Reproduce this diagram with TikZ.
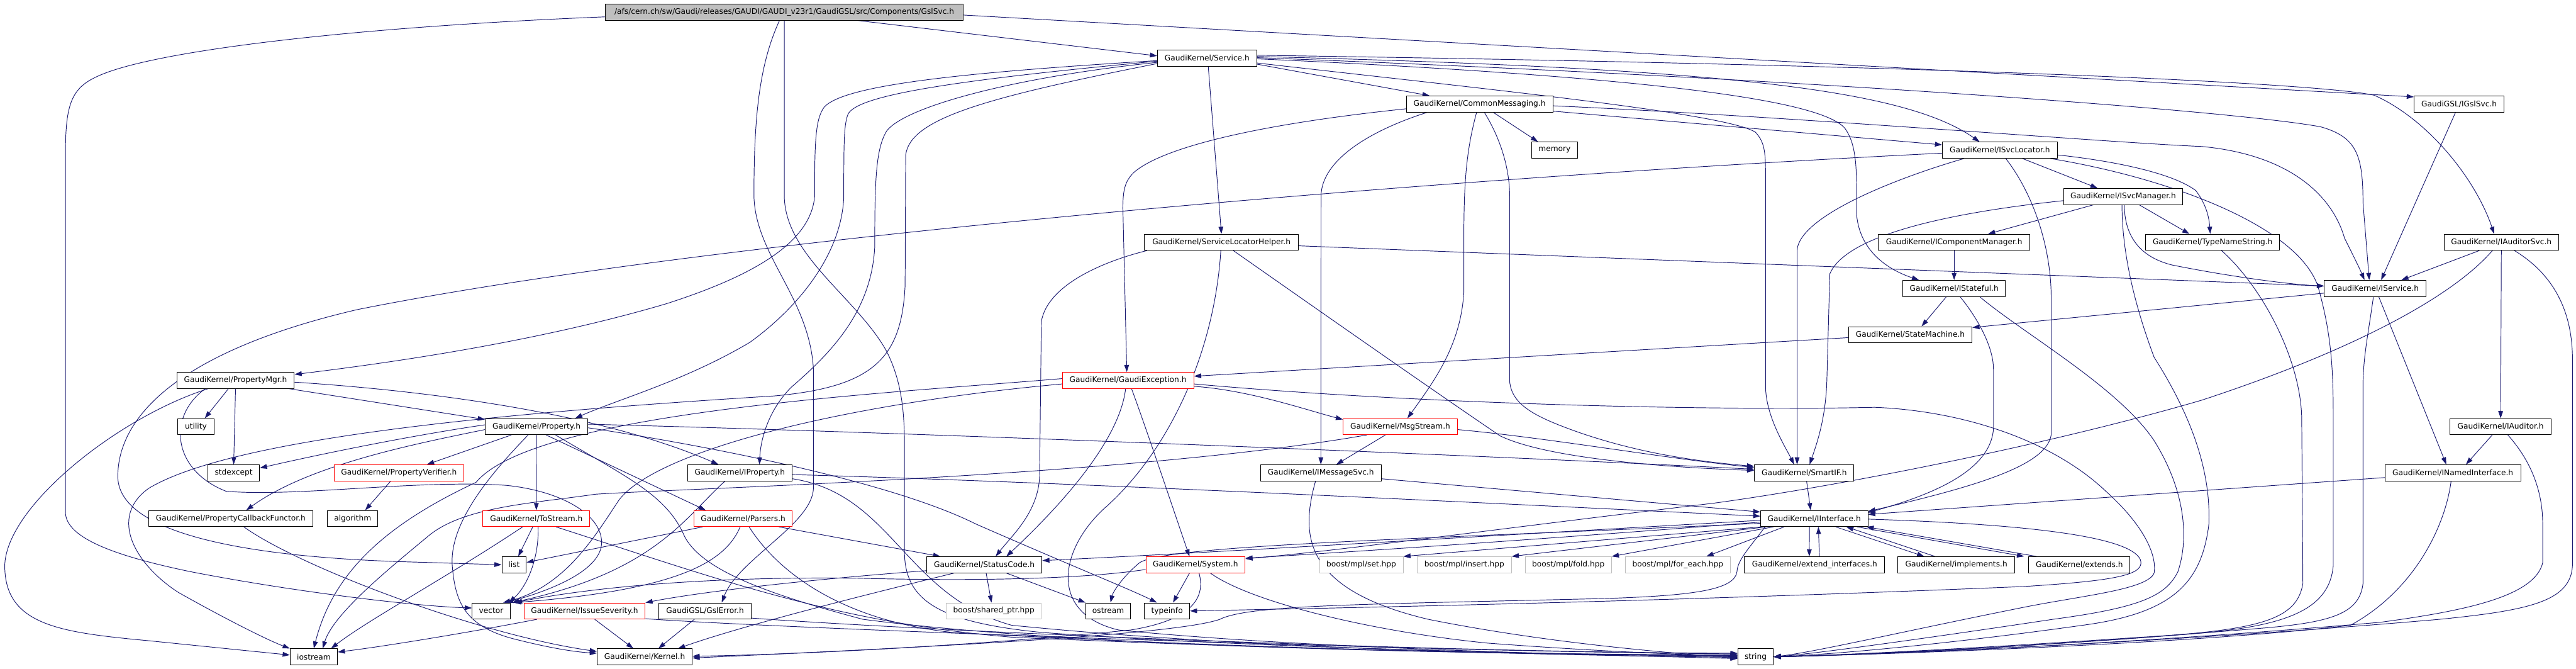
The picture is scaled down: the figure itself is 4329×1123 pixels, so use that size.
\documentclass[tikz,border=0pt]{standalone}
\usepackage{fontspec}
\setmainfont{DejaVu Sans}
\usetikzlibrary{arrows.meta}
\definecolor{ec}{HTML}{191970}
\definecolor{rootgray}{HTML}{BFBFBF}
\definecolor{lightframe}{HTML}{BFBFBF}
\pgfdeclarelayer{bg}
\pgfsetlayers{bg,main}
\begin{document}
\begin{tikzpicture}[x=1pt,y=-1pt,
 nd/.style={draw=black, line width=1pt, fill=white, minimum height=27pt, inner xsep=2pt, inner ysep=0pt, font=\fontsize{12.9}{15}\selectfont, text=black},
 rd/.style={nd, draw=red},
 gd/.style={nd, draw=lightframe},
 rt/.style={nd, fill=rootgray},
 edg/.style={draw=ec, line width=1pt, -{Triangle[length=12pt,width=8pt]}}]
\useasboundingbox (0,0) rectangle (4329,1123);
% ---------------- nodes
\node[rt, minimum width=602pt] (R) at (1318,20.3) {/afs/cern.ch/sw/Gaudi/releases/GAUDI/GAUDI\_v23r1/GaudiGSL/src/Components/GslSvc.h};
\node[nd, minimum width=167pt] (Svc) at (2028.5,97.8) {GaudiKernel/Service.h};
\node[nd, minimum width=246pt] (CM) at (2486.4,174.7) {GaudiKernel/CommonMessaging.h};
\node[nd, minimum width=77pt] (mem) at (2612.5,252) {memory};
\node[nd, minimum width=258.6pt] (SLH) at (2052.6,406.8) {GaudiKernel/ServiceLocatorHelper.h};
\node[nd, minimum width=193pt] (ISL) at (3360.7,252.2) {GaudiKernel/ISvcLocator.h};
\node[nd, minimum width=200.7pt] (ISM) at (3568,330) {GaudiKernel/ISvcManager.h};
\node[nd, minimum width=254.6pt] (ICM) at (3283.9,406.8) {GaudiKernel/IComponentManager.h};
\node[nd, minimum width=225.4pt] (TNS) at (3718.3,406.8) {GaudiKernel/TypeNameString.h};
\node[nd, minimum width=172.8pt] (IS) at (3283.9,484.3) {GaudiKernel/IStateful.h};
\node[nd, minimum width=207.7pt] (SM) at (3210.2,562) {GaudiKernel/StateMachine.h};
\node[nd, minimum width=151pt] (IGsl) at (4132.5,174.7) {GaudiGSL/IGslSvc.h};
\node[nd, minimum width=193pt] (IAS) at (4203.5,406.8) {GaudiKernel/IAuditorSvc.h};
\node[nd, minimum width=171pt] (ISvc) at (3991.5,484.3) {GaudiKernel/IService.h};
\node[nd, minimum width=170pt] (IAud) at (4202.3,716.4) {GaudiKernel/IAuditor.h};
\node[nd, minimum width=228pt] (INI) at (4122,794) {GaudiKernel/INamedInterface.h};
\node[nd, minimum width=197.5pt] (PM) at (395.8,638.8) {GaudiKernel/PropertyMgr.h};
\node[nd, minimum width=60.5pt] (util) at (329.2,716.4) {utility};
\node[nd, minimum width=87pt] (stdx) at (392.7,794) {stdexcept};
\node[rd, minimum width=218pt] (PV) at (670.5,794) {GaudiKernel/PropertyVerifier.h};
\node[nd, minimum width=276.5pt] (PCF) at (387.8,870.8) {GaudiKernel/PropertyCallbackFunctor.h};
\node[nd, minimum width=84.8pt] (alg) at (592.7,870.8) {algorithm};
\node[nd, minimum width=79.6pt] (ios) at (527.3,1103) {iostream};
\node[nd, minimum width=172.3pt] (P) at (901.6,716.4) {GaudiKernel/Property.h};
\node[nd, minimum width=176pt] (IP) at (1243.3,794) {GaudiKernel/IProperty.h};
\node[rd, minimum width=180pt] (TS) at (901.3,870.8) {GaudiKernel/ToStream.h};
\node[rd, minimum width=164.8pt] (Ps) at (1248.9,870.8) {GaudiKernel/Parsers.h};
\node[nd, minimum width=41pt] (list) at (863.9,948.4) {list};
\node[nd, minimum width=63.7pt] (vec) at (825.4,1026) {vector};
\node[rd, minimum width=203.5pt] (ISev) at (982.4,1026) {GaudiKernel/IssueSeverity.h};
\node[nd, minimum width=155pt] (GErr) at (1184.9,1026) {GaudiGSL/GslError.h};
\node[nd, minimum width=159.7pt] (Ker) at (1083.4,1103) {GaudiKernel/Kernel.h};
\node[rd, minimum width=221pt] (GE) at (1895.6,638.8) {GaudiKernel/GaudiException.h};
\node[nd, minimum width=193.7pt] (SC) at (1654.2,948.4) {GaudiKernel/StatusCode.h};
\node[rd, minimum width=166.7pt] (Sys) at (2009,948.4) {GaudiKernel/System.h};
\node[gd, minimum width=159.7pt] (bsp) at (1670.2,1026) {boost/shared\_ptr.hpp};
\node[nd, minimum width=75.4pt] (ost) at (1862.3,1026) {ostream};
\node[nd, minimum width=75.9pt] (tyi) at (1961.2,1026) {typeinfo};
\node[rd, minimum width=191.8pt] (MS) at (2353.2,716.4) {GaudiKernel/MsgStream.h};
\node[nd, minimum width=202.7pt] (IMS) at (2219.7,794) {GaudiKernel/IMessageSvc.h};
\node[gd, minimum width=140.6pt] (mset) at (2287.6,948.4) {boost/mpl/set.hpp};
\node[gd, minimum width=158.3pt] (mins) at (2460.8,948.4) {boost/mpl/insert.hpp};
\node[gd, minimum width=144.8pt] (mfold) at (2635.6,948.4) {boost/mpl/fold.hpp};
\node[gd, minimum width=176.6pt] (mfe) at (2819.6,948.4) {boost/mpl/for\_each.hpp};
\node[nd, minimum width=167.2pt] (SIF) at (3032,794) {GaudiKernel/SmartIF.h};
\node[nd, minimum width=180.2pt] (II) at (3048.8,870.8) {GaudiKernel/IInterface.h};
\node[nd, minimum width=235.6pt] (EI) at (3049.5,948.4) {GaudiKernel/extend\_interfaces.h};
\node[nd, minimum width=196pt] (Impl) at (3287.6,948.4) {GaudiKernel/implements.h};
\node[nd, minimum width=170pt] (Ext) at (3494.4,948.4) {GaudiKernel/extends.h};
\node[nd, minimum width=59.6pt] (str) at (2950.3,1103) {string};
% ---------------- edges
\begin{pgfonlayer}{bg}
\fill[white] (0,0) rectangle (4329,1123);
% root
\draw[edg] ([xshift=122pt]R.south) -- ([yshift=4pt]Svc.west);
\draw[edg] ([yshift=-5pt]R.east) -- ([yshift=12pt]IGsl.west);
\draw[edg] ([xshift=-8pt]R.south) .. controls (1275,110) and (1267,200) .. (1267,330) .. controls (1270,430) and (1360,500) .. (1367,620) -- (1367,820) .. controls (1365,880) and (1240,940) .. ([xshift=28pt]GErr.north);
\draw[edg] (R.south) -- (1318,330) .. controls (1320,430) and (1440,500) .. (1490,590) .. controls (1515,640) and (1520,690) .. (1520,750) -- (1520,930) .. controls (1522,1010) and (1580,1045) .. (1750,1062) .. controls (2100,1088) and (2600,1098) .. (str.west);
\draw[edg] ([yshift=-8pt]R.west) .. controls (600,45) and (250,85) .. (160,130) .. controls (118,150) and (110,180) .. (110,260) -- (110,860) .. controls (110,905) and (200,935) .. (320,960) .. controls (500,995) and (700,1018) .. ([yshift=5pt]vec.west);
% Service
\draw[edg] ([yshift=-10pt]Svc.east) -- ([xshift=-84pt]CM.north);
\draw[edg] ([xshift=2pt]Svc.south) -- (SLH.north);
\draw[edg] ([yshift=3pt]Svc.east) .. controls (2900,115) and (3200,150) .. ([xshift=-34pt]ISL.north);
\draw[edg] ([yshift=-1pt]Svc.east) .. controls (2800,130) and (3060,170) .. (3100,215) .. controls (3122,245) and (3120,290) .. (3120,360) .. controls (3125,420) and (3170,452) .. ([xshift=-59pt]IS.north);
\draw[edg] ([yshift=1pt]Svc.east) .. controls (3000,130) and (3750,185) .. (3900,213) .. controls (3960,230) and (3971,260) .. (3971,340) -- ([xshift=-10pt]ISvc.north);
\draw[edg] ([yshift=5pt]Svc.east) .. controls (3300,110) and (3900,140) .. (3990,160) .. controls (4080,200) and (4160,300) .. ([xshift=-12pt]IAS.north);
\draw[edg] ([yshift=-8pt]Svc.east) .. controls (2500,150) and (2900,190) .. (2950,222) .. controls (2967,240) and (2967,260) .. (2967,300) -- (2967,650) .. controls (2968,700) and (3000,750) .. ([xshift=-17pt]SIF.north);
\draw[edg] ([yshift=-4pt]Svc.west) .. controls (1650,120) and (1420,140) .. (1385,180) .. controls (1370,200) and (1369,240) .. (1369,330) .. controls (1362,410) and (1260,465) .. (1120,510) .. controls (900,575) and (650,610) .. ([yshift=10pt]PM.east);
\draw[edg] ([yshift=-5pt]Svc.west) .. controls (1600,135) and (1440,160) .. (1425,192) .. controls (1418,210) and (1418,240) .. (1418,330) .. controls (1415,420) and (1350,510) .. (1260,575) .. controls (1150,640) and (1040,670) .. ([xshift=65pt]P.north);
\draw[edg] ([yshift=-7pt]Svc.west) .. controls (1700,130) and (1520,180) .. (1490,220) .. controls (1472,250) and (1470,300) .. (1470,414) .. controls (1465,520) and (1400,590) .. (1330,650) .. controls (1290,690) and (1278,740) .. ([xshift=33pt]IP.north);
\draw[edg] ([yshift=-9pt]Svc.west) .. controls (1650,165) and (1530,200) .. (1522,260) -- (1521,480) .. controls (1515,600) and (1470,650) .. (1300,665) .. controls (900,690) and (400,730) .. (250,820) .. controls (180,870) and (230,950) .. (300,995) .. controls (380,1040) and (450,1075) .. (ios.north west);
% CommonMessaging
\draw[edg] ([xshift=23pt]CM.south) -- ([xshift=-28pt]mem.north);
\draw[edg] ([yshift=-12pt]CM.east) -- ([yshift=9pt]ISL.west);
\draw[edg] ([yshift=-3pt]CM.east) .. controls (3000,195) and (3550,240) .. (3700,246) .. controls (3850,260) and (3920,330) .. (3940,400) .. controls (3955,430) and (3965,450) .. ([xshift=-18pt]ISvc.north);
\draw[edg] ([xshift=8pt]CM.south) .. controls (2520,230) and (2537,280) .. (2537,330) -- (2537,640) .. controls (2540,680) and (2580,700) .. (2650,725) .. controls (2750,760) and (2850,775) .. ([yshift=11pt]SIF.west);
\draw[edg] ([xshift=-5pt]CM.south) .. controls (2465,250) and (2460,300) .. (2460,400) -- (2460,490) .. controls (2455,580) and (2410,640) .. ([xshift=12pt]MS.north);
\draw[edg] ([xshift=-88pt]CM.south) .. controls (2300,220) and (2220,270) .. (2220,330) -- (IMS.north);
\draw[edg] ([yshift=-8pt]CM.west) .. controls (2100,210) and (1950,250) .. (1905,290) .. controls (1890,305) and (1887,320) .. (1887,350) -- ([xshift=-2pt]GE.north);
% ServiceLocatorHelper
\draw[edg] ([yshift=-6pt]SLH.east) -- ([yshift=4pt]ISvc.west);
\draw[edg] ([xshift=20pt]SLH.south) .. controls (2200,510) and (2400,650) .. (2521,732) .. controls (2600,770) and (2800,785) .. ([yshift=4pt]SIF.west);
\draw[edg] ([xshift=-125pt]SLH.south) .. controls (1850,440) and (1760,480) .. (1750,540) -- (1747,800) .. controls (1745,860) and (1700,900) .. ([xshift=19pt]SC.north);
\draw[edg] ([xshift=-1pt]SLH.south) .. controls (2040,600) and (1960,760) .. (1860,850) .. controls (1780,920) and (1760,1030) .. (1880,1058) .. controls (2200,1090) and (2700,1100) .. ([yshift=-3pt]str.west);
% ISvcLocator
\draw[edg] ([xshift=38pt]ISL.south) -- ([xshift=-43pt]ISM.north);
\draw[edg] ([yshift=-8pt]ISL.east) .. controls (3550,270) and (3650,290) .. (3690,320) .. controls (3705,340) and (3712,360) .. ([xshift=-4pt]TNS.north);
\draw[edg] ([xshift=-60pt]ISL.south) .. controls (3200,295) and (3025,360) .. (3020,420) -- (3020,680) -- ([xshift=-12pt]SIF.north);
\draw[edg] ([xshift=10pt]ISL.south) .. controls (3420,330) and (3447,420) .. (3447,500) -- (3447,730) .. controls (3440,780) and (3330,815) .. ([yshift=12pt]II.east);
\draw[edg] ([xshift=85pt]ISL.south) .. controls (3650,300) and (3860,380) .. (3895,480) .. controls (3918,560) and (3921,620) .. (3921,700) -- (3921,950) .. controls (3915,1020) and (3850,1050) .. (3700,1063) .. controls (3400,1088) and (3100,1100) .. (str.east);
\draw[edg] ([yshift=-5pt]ISL.west) .. controls (2400,300) and (1200,400) .. (600,520) .. controls (300,590) and (198,700) .. (198,800) .. controls (198,880) and (350,935) .. (700,944) -- (list.west);
% ISvcManager
\draw[edg] ([xshift=-50pt]ISM.south) -- ([xshift=57pt]ICM.north);
\draw[edg] ([xshift=27pt]ISM.south) -- ([xshift=-39pt]TNS.north);
\draw[edg] ([xshift=2pt]ISM.south) .. controls (3570,390) and (3590,430) .. (3650,445) .. controls (3750,465) and (3850,478) .. ([yshift=4pt]ISvc.west);
\draw[edg] ([yshift=-7pt]ISM.west) .. controls (3250,360) and (3100,400) .. (3075,460) -- (3070,640) .. controls (3068,700) and (3055,740) .. ([xshift=9pt]SIF.north);
\draw[edg] ([xshift=-2pt]ISM.south) .. controls (3566,430) and (3590,520) .. (3620,600) .. controls (3690,710) and (3715,800) .. (3712,880) .. controls (3700,980) and (3650,1030) .. (3500,1050) .. controls (3300,1078) and (3100,1098) .. (str.east);
% IComponentManager, TypeNameString
\draw[edg] (ICM.south) -- (IS.north);
\draw[edg] ([xshift=15pt]TNS.south) .. controls (3800,480) and (3865,600) .. (3868,700) -- (3870,980) .. controls (3860,1040) and (3800,1058) .. (3600,1070) .. controls (3300,1090) and (3100,1100) .. (str.east);
% IStateful
\draw[edg] ([xshift=-13pt]IS.south) -- ([xshift=19pt]SM.north);
\draw[edg] ([xshift=10pt]IS.south) .. controls (3320,530) and (3350,580) .. (3350,620) -- (3350,720) .. controls (3345,790) and (3250,830) .. ([yshift=10pt]II.east);
\draw[edg] ([xshift=43pt]IS.south) .. controls (3400,560) and (3560,650) .. (3620,740) .. controls (3670,820) and (3680,900) .. (3660,960) .. controls (3640,1000) and (3600,1020) .. (3450,1040) .. controls (3250,1070) and (3050,1098) .. (str.east);
% StateMachine
\draw[edg] ([yshift=-5pt]SM.west) -- ([yshift=7pt]GE.east);
% IGslSvc, IAuditorSvc
\draw[edg] ([xshift=-6pt]IGsl.south) -- ([xshift=10pt]ISvc.north);
\draw[edg] ([xshift=-37pt]IAS.south) -- ([xshift=44pt]ISvc.north);
\draw[edg] (IAS.south) -- (IAud.north);
\draw[edg] ([xshift=-15pt]IAS.south) .. controls (4120,500) and (3950,590) .. (3700,672) .. controls (3450,745) and (3100,815) .. (2880,845) .. controls (2500,890) and (2250,925) .. ([yshift=10pt]Sys.east);
\draw[edg] ([xshift=22pt]IAS.south) .. controls (4290,460) and (4322,520) .. (4323,600) -- (4323,950) .. controls (4320,1010) and (4250,1025) .. (4100,1040) .. controls (3700,1075) and (3200,1098) .. (str.east);
% IService
\draw[edg] ([xshift=6pt]ISvc.south) -- ([xshift=-11pt]INI.north);
\draw[edg] ([yshift=-8pt]ISvc.west) -- ([yshift=12pt]SM.east);
\draw[edg] ([xshift=-3pt]ISvc.south) .. controls (3980,560) and (3971,600) .. (3971,650) -- (3971,980) .. controls (3965,1030) and (3920,1045) .. (3800,1055) .. controls (3500,1080) and (3200,1098) .. (str.east);
% IAuditor, INamedInterface
\draw[edg] ([xshift=-14pt]IAud.south) -- ([xshift=22pt]INI.north);
\draw[edg] ([xshift=12pt]IAud.south) .. controls (4250,770) and (4273,820) .. (4273,880) -- (4273,945) .. controls (4260,1000) and (4150,1025) .. (4000,1045) .. controls (3600,1080) and (3200,1098) .. (str.east);
\draw[edg] ([yshift=-8pt]INI.west) -- ([yshift=7pt]II.east);
\draw[edg] ([xshift=-3pt]INI.south) .. controls (4110,880) and (4060,990) .. (3950,1050) .. controls (3700,1080) and (3200,1098) .. (str.east);
% PropertyMgr
\draw[edg] ([xshift=-12pt]PM.south) -- ([xshift=15pt]util.north);
\draw[edg] (PM.south) -- (stdx.north);
\draw[edg] ([xshift=90pt]PM.south) -- ([yshift=12pt]P.west);
\draw[edg] ([yshift=-3pt]PM.east) .. controls (700,655) and (1000,690) .. ([xshift=-36pt]IP.north);
\draw[edg] ([xshift=-46pt]PM.south) .. controls (200,700) and (10,850) .. (8,950) .. controls (8,1050) and (100,1062) .. (250,1076) -- ([yshift=3pt]ios.west);
\draw[edg] ([xshift=-51pt]PM.south) .. controls (280,700) and (290,790) .. (380,825) .. controls (500,835) and (700,805) .. (850,815) .. controls (950,825) and (1020,870) .. (1010,920) .. controls (1000,960) and (930,990) .. ([xshift=25pt]vec.north);
% Property
\draw[edg] ([xshift=-42pt]P.south) -- ([xshift=47pt]PV.north);
\draw[edg] ([yshift=-5pt]P.west) .. controls (700,745) and (520,780) .. ([xshift=26pt]PCF.north);
\draw[edg] ([yshift=3pt]P.west) .. controls (700,730) and (550,760) .. ([yshift=8pt]stdx.east);
\draw[edg] (P.south) -- (TS.north);
\draw[edg] ([xshift=16pt]P.south) -- ([xshift=-63pt]Ps.north);
\draw[edg] ([yshift=-2pt]P.east) .. controls (1200,750) and (1500,810) .. (1640,880) .. controls (1800,950) and (1900,990) .. ([xshift=-17pt]tyi.north);
\draw[edg] ([xshift=-14pt]P.south) .. controls (820,800) and (755,880) .. (760,950) .. controls (765,1010) and (780,1050) .. (860,1072) .. controls (930,1090) and (970,1095) .. ([yshift=6pt]Ker.west);
\draw[edg] ([yshift=4pt]P.east) .. controls (1500,725) and (2500,765) .. ([yshift=6pt]SIF.west);
\draw[edg] ([xshift=32pt]P.south) .. controls (1050,800) and (1120,830) .. (1150,900) .. controls (1180,960) and (1300,1000) .. (1450,1040) .. controls (1800,1085) and (2400,1098) .. ([yshift=3pt]str.west);
% PropertyVerifier, PropertyCallbackFunctor
\draw[edg] ([xshift=-14pt]PV.south) -- ([xshift=21pt]alg.north);
\draw[edg] ([xshift=22pt]PCF.south) .. controls (500,950) and (800,1065) .. ([yshift=9pt]Ker.west);
% IProperty
\draw[edg] ([yshift=-3pt]IP.east) .. controls (1800,810) and (2500,845) .. ([yshift=4pt]II.west);
\draw[edg] ([yshift=-10pt]IP.east) .. controls (1500,830) and (1520,1000) .. (1700,1050) .. controls (2100,1090) and (2600,1100) .. ([yshift=-1pt]str.west);
\draw[edg] ([xshift=-25pt]IP.south) .. controls (1150,870) and (1100,960) .. ([xshift=35pt]vec.north);
% ToStream
\draw[edg] ([xshift=-6pt]TS.south) -- ([xshift=7pt]list.north);
\draw[edg] ([xshift=3pt]TS.south) .. controls (906,930) and (890,980) .. ([xshift=30pt]vec.north);
\draw[edg] ([xshift=-23pt]TS.south) .. controls (750,970) and (620,1040) .. ([xshift=29pt]ios.north);
\draw[edg] ([xshift=33pt]TS.south) .. controls (1200,970) and (1400,1045) .. (1700,1070) .. controls (2200,1092) and (2600,1100) .. ([yshift=2pt]str.west);
% Parsers
\draw[edg] ([xshift=-68pt]Ps.south) -- ([yshift=4pt]list.east);
\draw[edg] ([xshift=-5pt]Ps.south) .. controls (1220,940) and (1150,990) .. ([xshift=38pt]vec.north);
\draw[edg] ([xshift=60pt]Ps.south) -- ([xshift=-74pt]SC.north);
\draw[edg] ([xshift=10pt]Ps.south) .. controls (1300,950) and (1400,1040) .. (1600,1062) .. controls (2100,1090) and (2600,1100) .. ([yshift=3pt]str.west);
% IssueSeverity, GslError
\draw[edg] ([xshift=17pt]ISev.south) -- ([xshift=-19pt]Ker.north);
\draw[edg] ([xshift=-80pt]ISev.south) .. controls (800,1060) and (650,1085) .. ([yshift=8pt]ios.east);
\draw[edg] ([yshift=-13pt]ISev.east) .. controls (1300,1055) and (2400,1095) .. ([yshift=5pt]str.west);
\draw[edg] ([xshift=-18pt]GErr.south) -- ([xshift=23pt]Ker.north);
\draw[edg] ([yshift=-12pt]GErr.east) .. controls (1600,1062) and (2400,1095) .. ([yshift=6pt]str.west);
% StatusCode
\draw[edg] ([yshift=-10pt]SC.west) .. controls (1400,970) and (1200,990) .. (ISev.north east);
\draw[edg] ([xshift=3pt]SC.south) -- ([xshift=-4pt]bsp.north);
\draw[edg] ([xshift=37pt]SC.south) -- (ost.north west);
\draw[edg] ([xshift=-51pt]SC.south) .. controls (1450,1000) and (1250,1050) .. ([xshift=56pt]Ker.north);
% System
\draw[edg] ([xshift=-10pt]Sys.south) -- ([xshift=10pt]tyi.north);
\draw[edg] ([yshift=-8pt]Sys.west) .. controls (1800,975) and (1600,975) .. (1440,971) .. controls (1200,968) and (1000,985) .. ([xshift=40pt]vec.north);
\draw[edg] ([xshift=6pt]Sys.south) .. controls (2025,1000) and (2010,1040) .. (1900,1058) .. controls (1600,1088) and (1300,1100) .. ([yshift=1pt]Ker.east);
\draw[edg] ([xshift=25pt]Sys.south) .. controls (2100,1010) and (2300,1060) .. (2500,1080) .. controls (2700,1095) and (2850,1100) .. ([yshift=1pt]str.west);
% GaudiException
\draw[edg] ([xshift=-4pt]GE.south) .. controls (1880,750) and (1760,870) .. ([xshift=37pt]SC.north);
\draw[edg] ([xshift=6pt]GE.south) .. controls (1930,730) and (1980,880) .. ([xshift=-10pt]Sys.north);
\draw[edg] ([yshift=-10pt]GE.east) .. controls (2100,655) and (2200,690) .. ([yshift=12pt]MS.west);
\draw[edg] ([yshift=3pt]GE.west) .. controls (1500,660) and (900,690) .. (800,810) .. controls (650,880) and (560,960) .. (ios.north);
\draw[edg] ([yshift=-6pt]GE.west) .. controls (1400,680) and (1100,760) .. (1040,840) .. controls (1000,900) and (950,985) .. ([xshift=20pt]vec.north);
\draw[edg] ([yshift=-6pt]GE.east) .. controls (2400,680) and (2900,690) .. (3150,684) .. controls (3300,690) and (3450,740) .. (3540,826) .. controls (3600,880) and (3625,930) .. (3620,962) .. controls (3610,990) and (3500,1000) .. (3400,1020) .. controls (3200,1060) and (3050,1095) .. (str.east);
% MsgStream
\draw[edg] ([xshift=-25pt]MS.south) -- ([xshift=26pt]IMS.north);
\draw[edg] ([xshift=-56pt]MS.south) .. controls (1900,800) and (1150,820) .. (1000,830) .. controls (900,845) and (780,850) .. (720,900) .. controls (660,950) and (560,1030) .. ([xshift=15pt]ios.north);
\draw[edg] ([yshift=-5pt]MS.east) .. controls (2600,735) and (2800,770) .. ([yshift=9pt]SIF.west);
% IMessageSvc
\draw[edg] ([yshift=-10pt]IMS.east) -- ([yshift=11pt]II.west);
\draw[edg] ([xshift=-9pt]IMS.south) .. controls (2185,900) and (2190,990) .. (2400,1040) .. controls (2600,1080) and (2800,1096) .. ([yshift=-2pt]str.west);
% SmartIF
\draw[edg] ([xshift=4pt]SIF.south) -- ([xshift=-6pt]II.north);
% IInterface
\draw[edg] ([xshift=-8pt]II.south) -- ([xshift=-9pt]EI.north);
\draw[edg] ([xshift=8pt]EI.north) -- ([xshift=7pt]II.south);
\draw[edg] ([xshift=36pt]II.south) -- ([xshift=-54pt]Impl.north);
\draw[edg] ([xshift=-36pt]Impl.north) -- ([xshift=54pt]II.south);
\draw[edg] ([xshift=72pt]II.south) -- ([xshift=-93pt]Ext.north);
\draw[edg] ([xshift=-72pt]Ext.north) -- ([xshift=88pt]II.south);
\draw[edg] ([xshift=2pt]II.south west) -- (mset.north east);
\draw[edg] ([xshift=10pt]II.south west) -- (mins.north east);
\draw[edg] ([xshift=22pt]II.south west) -- (mfold.north east);
\draw[edg] ([xshift=40pt]II.south west) -- ([xshift=48pt]mfe.north);
\draw[edg] ([yshift=-3pt]II.west) .. controls (2500,900) and (2000,930) .. ([yshift=7pt]SC.east);
\draw[edg] ([yshift=-6pt]II.west) .. controls (2600,905) and (2300,925) .. ([yshift=11pt]Sys.east);
\draw[edg] ([yshift=-8pt]II.west) .. controls (2400,905) and (1960,915) .. (1915,945) .. controls (1885,970) and (1870,995) .. ([xshift=4pt]ost.north);
\draw[edg] ([yshift=-1pt]II.east) .. controls (3400,880) and (3580,900) .. (3597,940) .. controls (3605,965) and (3560,975) .. (3400,985) .. controls (2800,1010) and (2300,1020) .. (tyi.east);
\draw[edg] ([xshift=8pt]II.south west) .. controls (2940,920) and (2920,940) .. (2919,960) .. controls (2915,990) and (2850,1000) .. (2700,1005) .. controls (2300,1015) and (2100,1015) .. (2050,1040) .. controls (1980,1065) and (1600,1085) .. ([yshift=-2pt]Ker.east);
\end{pgfonlayer}
\end{tikzpicture}
\end{document}
